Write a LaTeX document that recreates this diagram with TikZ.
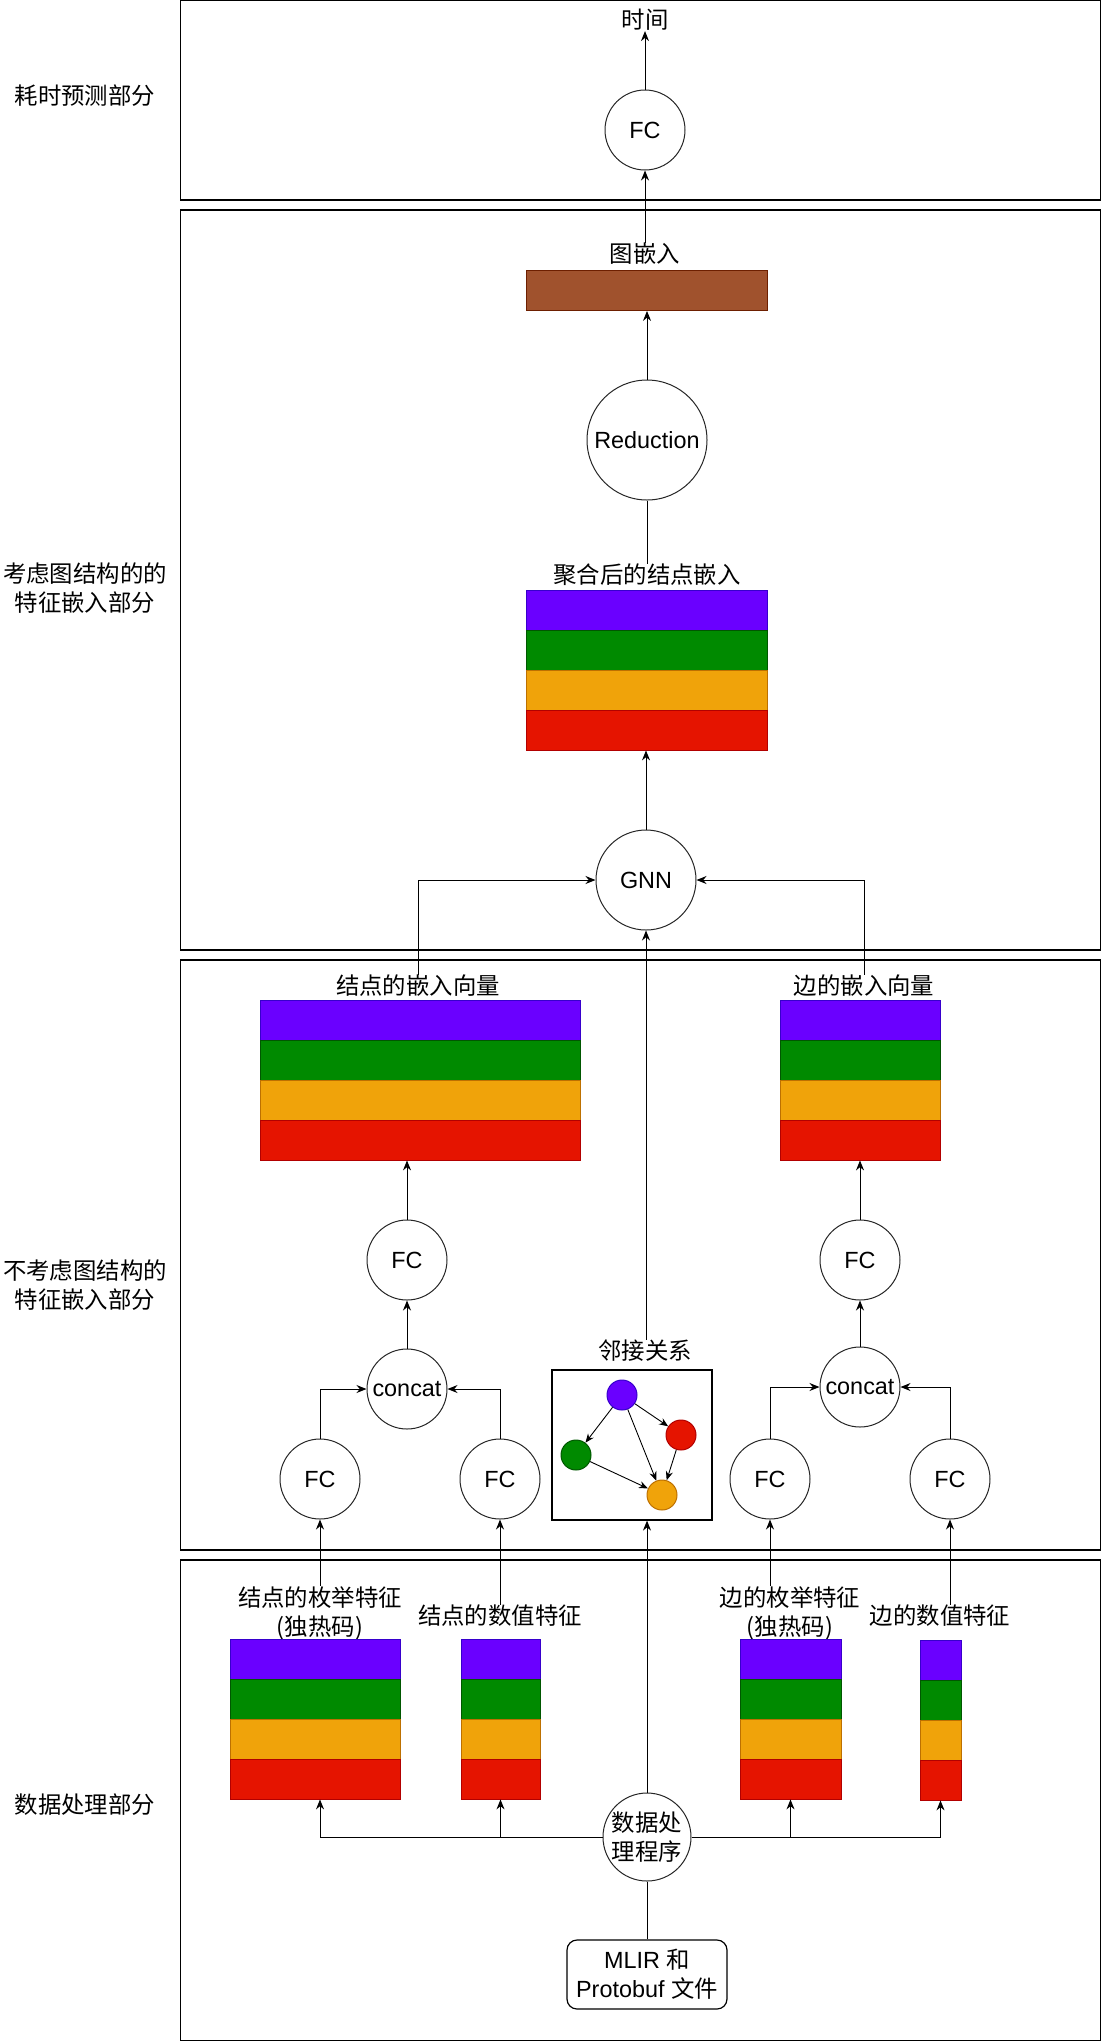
\documentclass[tikz,border=0pt]{standalone}
\usepackage{fontspec}
\setmainfont{Liberation Sans}
\newfontfamily\cjk{Noto Sans CJK SC}
\usetikzlibrary{arrows.meta}
\definecolor{cpur}{HTML}{6A00FF}\definecolor{cpurd}{HTML}{3700CC}
\definecolor{cgrn}{HTML}{008A00}\definecolor{cgrnd}{HTML}{005700}
\definecolor{corg}{HTML}{F0A30A}\definecolor{corgd}{HTML}{BD7000}
\definecolor{cred}{HTML}{E51400}\definecolor{credd}{HTML}{B20000}
\definecolor{cbrn}{HTML}{A0522D}\definecolor{cbrnd}{HTML}{6D1F00}
\newcommand\txtsize{\fontsize{11.7}{14.5}\selectfont}
% name, x1, x2, ytop
\newcommand\stripes[4]{%
  \filldraw[fill=cpur,draw=cpurd,line width=0.4pt] (#2,#4) rectangle (#3,{#4+40});
  \filldraw[fill=cgrn,draw=cgrnd,line width=0.4pt] (#2,{#4+40}) rectangle (#3,{#4+80});
  \filldraw[fill=corg,draw=corgd,line width=0.4pt] (#2,{#4+80}) rectangle (#3,{#4+120});
  \filldraw[fill=cred,draw=credd,line width=0.4pt] (#2,{#4+120}) rectangle (#3,{#4+160});
  \node[inner sep=0pt, minimum width={(#3-#2)*0.5pt}, minimum height=80pt] (#1) at ({(#2+#3)/2},{#4+80}) {};
}
\tikzset{
  panel/.style={draw=black, line width=0.65pt},
  nn/.style={circle, draw=black!85, line width=0.5pt, inner sep=0pt, fill=white, font=\txtsize},
  lab/.style={font=\cjk\txtsize, inner sep=0pt, align=center},
  arr/.style={-{Stealth[length=5pt,width=4pt]}, line width=0.5pt},
  sarr/.style={-{Stealth[length=4.5pt,width=3.6pt]}, line width=0.45pt},
  ln/.style={line width=0.5pt},
  gnode/.style={circle, inner sep=0pt, minimum size=15pt, line width=0.5pt},
}
\begin{document}
\begin{tikzpicture}[x=0.5pt,y=-0.5pt]
\useasboundingbox (0,0) rectangle (1101,2041);
% panels
\draw[panel] (180.7,0.7) rectangle (1100.3,200);
\draw[panel] (180.7,210) rectangle (1100.3,950);
\draw[panel] (180.7,960) rectangle (1100.3,1550);
\draw[panel] (180.7,1560) rectangle (1100.3,2040.3);
% side labels
\node[lab] (s1) at (85,96) {耗时预测部分};
\node[lab] (s2) at (85,588) {考虑图结构的的\\特征嵌入部分};
\node[lab] (s3) at (85,1285) {不考虑图结构的\\特征嵌入部分};
\node[lab] (s4) at (85,1805) {数据处理部分};
% panel 1
\node[nn, minimum size=40pt] (fc0) at (645,130) {FC};
\node[lab] (time) at (645,20) {时间};
\draw[arr] (fc0.north) -- (time.south);
% panel 2
\node[lab] (lge) at (645,254) {图嵌入};
\node[draw=cbrnd, fill=cbrn, line width=0.4pt, minimum width=120.5pt, minimum height=20pt, inner sep=0pt] (ge) at (646.5,290.5) {};
\draw[arr] (lge.north) -- (fc0.south);
\node[nn, minimum size=60pt] (redu) at (647,440) {Reduction};
\draw[arr] (redu.north) -- (redu.north |- ge.south);
\node[lab] (lagg) at (647,575) {聚合后的结点嵌入};
\stripes{agg}{526}{767}{590}
\draw[ln] (lagg.north) -- (redu.south);
\node[nn, minimum size=50pt] (gnn) at (646,880) {GNN};
\draw[arr] (gnn.north) -- (gnn.north |- agg.south);
% panel 3
\node[lab] (lne) at (418,986) {结点的嵌入向量};
\stripes{ne}{260}{580}{1000}
\node[lab] (lee) at (864,986) {边的嵌入向量};
\stripes{ee}{780}{940}{1000}
\draw[arr] (lne.north) |- (gnn.west);
\draw[arr] (lee.north) |- (gnn.east);
\node[nn, minimum size=40pt] (fcA) at (407,1260) {FC};
\node[nn, minimum size=40pt] (catA) at (407,1389) {concat};
\node[nn, minimum size=40pt] (fc1) at (320,1479) {FC};
\node[nn, minimum size=40pt] (fc2) at (500,1479) {FC};
\draw[arr] (fcA.north) -- (fcA.north |- ne.south);
\draw[arr] (catA.north) -- (fcA.south);
\draw[arr] (fc1.north) |- (catA.west);
\draw[arr] (fc2.north) |- (catA.east);
\node[nn, minimum size=40pt] (fcB) at (860,1260) {FC};
\node[nn, minimum size=40pt] (catB) at (860,1387) {concat};
\node[nn, minimum size=40pt] (fc3) at (770,1479) {FC};
\node[nn, minimum size=40pt] (fc4) at (950,1479) {FC};
\draw[arr] (fcB.north) -- (fcB.north |- ee.south);
\draw[arr] (catB.north) -- (fcB.south);
\draw[arr] (fc3.north) |- (catB.west);
\draw[arr] (fc4.north) |- (catB.east);
% adjacency
\node[draw, line width=0.6pt, minimum width=80pt, minimum height=75pt, inner sep=0pt] (adj) at (632,1445) {};
\node[lab] (ladj) at (645,1351) {邻接关系};
\draw[arr] (gnn.south |- ladj.north) -- (gnn.south);
\node[gnode, fill=cpur, draw=cpurd] (g1) at (622,1395) {};
\node[gnode, fill=cred, draw=credd] (g2) at (681,1435) {};
\node[gnode, fill=cgrn, draw=cgrnd] (g3) at (576,1455) {};
\node[gnode, fill=corg, draw=corgd] (g4) at (662,1495) {};
\draw[sarr] (g1) -- (g2);
\draw[sarr] (g1) -- (g3);
\draw[sarr] (g1) -- (g4);
\draw[sarr] (g3) -- (g4);
\draw[sarr] (g2) -- (g4);
% panel 4
\node[lab] (l1) at (320,1613) {结点的枚举特征\\(独热码)};
\node[lab] (l2) at (500,1616) {结点的数值特征};
\node[lab] (l3) at (790,1613) {边的枚举特征\\(独热码)};
\node[lab] (l4) at (940,1616) {边的数值特征};
\stripes{st1}{230}{400}{1639}
\stripes{st2}{461}{540}{1639}
\stripes{st3}{740}{841}{1639}
\stripes{st4}{920}{961}{1640}
\draw[arr] (l1.north) -- (fc1.south);
\draw[arr] (l2.north) -- (fc2.south);
\draw[arr] (fc3.south |- l3.north) -- (fc3.south);
\draw[arr] (fc4.south |- l4.north) -- (fc4.south);
\node[nn, minimum size=44pt, font=\cjk\txtsize, align=center] (dp) at (647,1837) {数据处\\理程序};
\node[draw, rounded corners=5pt, line width=0.6pt, minimum width=80pt, minimum height=34.5pt, inner sep=0pt, align=center, font=\txtsize] (mlir) at (647,1974.5) {MLIR {\cjk 和}\\Protobuf {\cjk 文件}};
\draw[arr] (dp.west) -| (fc1.south |- st1.south);
\draw[arr] (dp.west) -| (st2.south);
\draw[arr] (dp.east) -| (st3.south);
\draw[arr] (dp.east) -| (st4.south);
\draw[arr] (dp.north) -- (dp.north |- adj.south);
\draw[ln] (mlir.north) -- (dp.south);
\end{tikzpicture}
\end{document}
